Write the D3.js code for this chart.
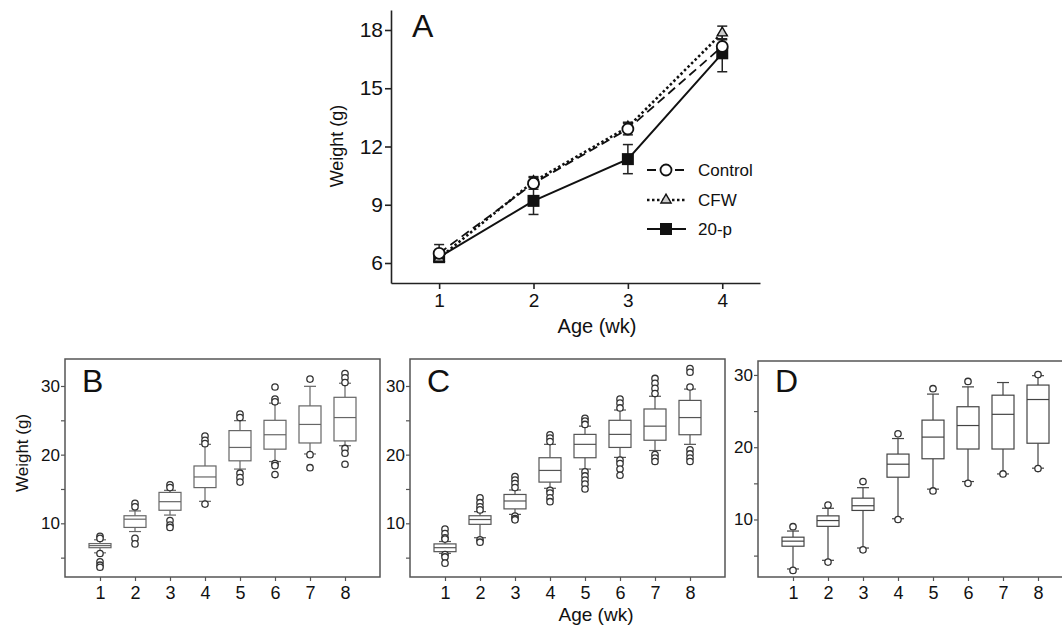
<!DOCTYPE html>
<html>
<head>
<meta charset="utf-8">
<script src="https://cdn.jsdelivr.net/npm/d3@7"></script>
<style>
  body { margin: 0; background: #fff; }
  svg { display: block; font-family: "Liberation Sans", Arial, sans-serif; }
</style>
</head>
<body>
<svg id="chart" width="1062" height="626"></svg>
<script>
// ---- panel A: mean weight per group ----
const weeksA = [1, 2, 3, 4];
const controlMean = [6.5, 10.1, 12.9, 17.15];
const controlErr = [0.45, 0.3, 0.3, 0.4];
const cfwMean = [6.25, 10.2, 13.0, 17.85];
const cfwErr = [0.2, 0.25, 0.25, 0.35];
const p20Mean = [6.3, 9.2, 11.35, 16.8];
const p20Err = [0.2, 0.7, 0.75, 0.95];
const ticksA = [6, 9, 12, 15, 18];

// ---- panels B, C, D: box plots per week ----
const weeksBox = [1, 2, 3, 4, 5, 6, 7, 8];
const boxTicks = [5, 10, 15, 20, 25, 30];

const bLow = [5.7, 8.8, 11.2, 13.2, 17.9, 19.0, 20.1, 21.3];
const bQ1 = [6.45, 9.4, 11.9, 15.2, 19.1, 20.8, 21.7, 22.0];
const bMed = [6.75, 10.6, 13.15, 16.75, 21.05, 22.9, 24.4, 25.4];
const bQ3 = [7.05, 11.1, 14.5, 18.35, 23.5, 25.0, 27.1, 28.35];
const bHigh = [7.6, 11.8, 14.8, 21.5, 24.95, 27.5, 29.95, 30.4];
const bOut = [[8.1, 7.8, 5.6, 4.4, 3.9, 3.6], [12.9, 12.4, 7.8, 7.0], [15.6, 15.2, 10.4, 9.75, 9.4],
  [22.7, 22.1, 21.6, 12.8], [25.9, 25.4, 17.3, 16.65, 16.0], [29.85, 28.1, 27.7, 18.7, 18.4, 17.1],
  [31.0, 20.0, 18.1], [31.8, 31.2, 30.5, 20.9, 20.2, 18.6]];

const cLow = [5.63, 7.9, 11.3, 15.1, 17.9, 19.6, 20.6, 21.5];
const cQ1 = [5.87, 9.85, 12.1, 16.0, 19.55, 21.05, 22.1, 22.9];
const cMed = [6.45, 10.55, 13.25, 17.7, 21.5, 22.95, 24.15, 25.4];
const cQ3 = [7.0, 11.1, 14.2, 19.55, 22.95, 25.0, 26.65, 27.9];
const cHigh = [7.35, 11.7, 14.85, 21.5, 24.15, 26.5, 28.5, 29.55];
const cOut = [[9.15, 8.5, 7.9, 7.7, 5.45, 5.1, 4.2], [13.7, 13.0, 12.4, 11.95, 7.6, 7.25],
  [16.8, 16.3, 15.8, 15.2, 11.05, 10.7, 10.5], [22.9, 22.4, 21.9, 14.8, 14.4, 13.7, 13.15],
  [25.3, 24.9, 24.4, 17.5, 16.9, 16.3, 15.7, 15.0], [28.1, 27.5, 26.8, 19.2, 18.7, 17.9, 17.0],
  [31.1, 30.4, 29.65, 28.9, 20.0, 19.5, 19.0], [32.55, 32.0, 29.85, 20.7, 20.1, 19.5, 19.0]];

const dLow = [3.15, 4.35, 6.05, 10.1, 14.2, 15.25, 16.3, 17.1];
const dQ1 = [6.3, 9.05, 11.25, 15.85, 18.4, 19.75, 19.75, 20.55];
const dMed = [7.0, 9.85, 11.9, 17.65, 21.4, 23.0, 24.55, 26.6];
const dQ3 = [7.55, 10.5, 12.95, 19.05, 23.75, 25.6, 27.2, 28.6];
const dHigh = [8.4, 11.55, 14.4, 21.2, 27.35, 28.35, 28.95, 29.9];
const dOut = [[9.0, 2.95], [12.0, 4.1], [15.25, 5.8], [21.85, 10.0], [28.1, 13.95], [29.1, 15.0],
  [16.3], [30.05, 17.05]];

const svg = d3.select("#chart");

// ================= panel A =================
const ax = d3.scaleLinear().domain([0.49, 4.4]).range([391, 760]);
const ay = d3.scaleLinear().domain([4.97, 19.03]).range([283, 10]);

const gA = svg.append("g");

const yAxisA = gA.append("g")
  .attr("transform", "translate(391,0)")
  .call(d3.axisLeft(ay).tickValues(ticksA).tickSize(6).tickSizeOuter(0).tickPadding(2));
const xAxisA = gA.append("g")
  .attr("transform", "translate(0,283)")
  .call(d3.axisBottom(ax).tickValues(weeksA).tickFormat(d3.format("d"))
    .tickSize(6).tickSizeOuter(0).tickPadding(5));
[yAxisA, xAxisA].forEach(g => {
  g.selectAll("path, line").attr("stroke", "#222").attr("stroke-width", 1.6);
  g.selectAll("text").attr("fill", "#111").style("font-size", "21px");
});
xAxisA.selectAll("text").style("font-size", "19px");

gA.append("text").attr("x", 412).attr("y", 37)
  .style("font-size", "32px").attr("fill", "#111").text("A");
gA.append("text")
  .attr("transform", "translate(337,146) rotate(-90)")
  .attr("text-anchor", "middle").attr("dy", "0.35em")
  .style("font-size", "18px").attr("fill", "#111").text("Weight (g)");
gA.append("text").attr("x", 597).attr("y", 333)
  .attr("text-anchor", "middle").style("font-size", "20px").attr("fill", "#111").text("Age (wk)");

const seriesA = [
  { name: "Control", mean: controlMean, err: controlErr, dash: "9,5", width: 1.8, mark: "circle" },
  { name: "CFW", mean: cfwMean, err: cfwErr, dash: "2.5,2.5", width: 2.6, mark: "triangle" },
  { name: "20-p", mean: p20Mean, err: p20Err, dash: null, width: 2, mark: "square" }
];

const lineA = d3.line().x((d, i) => ax(weeksA[i])).y(d => ay(d));

// error bars
seriesA.forEach(s => {
  const eb = gA.append("g").attr("stroke", "#222").attr("stroke-width", 1.5);
  weeksA.forEach((w, i) => {
    const x = ax(w), lo = ay(s.mean[i] - s.err[i]), hi = ay(s.mean[i] + s.err[i]);
    eb.append("line").attr("x1", x).attr("x2", x).attr("y1", lo).attr("y2", hi);
    eb.append("line").attr("x1", x - 5).attr("x2", x + 5).attr("y1", lo).attr("y2", lo);
    eb.append("line").attr("x1", x - 5).attr("x2", x + 5).attr("y1", hi).attr("y2", hi);
  });
});

// lines
seriesA.forEach(s => {
  gA.append("path").datum(s.mean)
    .attr("d", lineA).attr("fill", "none").attr("stroke", "#111")
    .attr("stroke-width", s.width)
    .attr("stroke-dasharray", s.dash);
});

function marker(g, type, x, y) {
  if (type === "circle") {
    g.append("circle").attr("cx", x).attr("cy", y).attr("r", 5.5)
      .attr("fill", "#fff").attr("stroke", "#111").attr("stroke-width", 1.8);
  } else if (type === "triangle") {
    g.append("path").attr("transform", `translate(${x},${y})`)
      .attr("d", d3.symbol(d3.symbolTriangle, 45)())
      .attr("fill", "#ccc").attr("stroke", "#111").attr("stroke-width", 1.4);
  } else {
    g.append("rect").attr("x", x - 6).attr("y", y - 6).attr("width", 12).attr("height", 12)
      .attr("fill", "#111");
  }
}

// markers: draw 20-p first so open markers stay on top at week 1
[seriesA[2], seriesA[1], seriesA[0]].forEach(s => {
  weeksA.forEach((w, i) => marker(gA, s.mark, ax(w), ay(s.mean[i])));
});

// legend
const legY = [170, 200, 229];
seriesA.forEach((s, i) => {
  gA.append("line").attr("x1", 647).attr("x2", 686).attr("y1", legY[i]).attr("y2", legY[i])
    .attr("stroke", "#111").attr("stroke-width", s.width).attr("stroke-dasharray", s.dash);
  marker(gA, s.mark, 666, legY[i]);
  gA.append("text").attr("x", 698).attr("y", legY[i]).attr("dy", "0.36em")
    .style("font-size", "17px").attr("fill", "#111").text(s.name);
});

// ================= box panels =================
function boxPanel(p) {
  const g = svg.append("g");
  const x = d3.scaleLinear().domain([0, 9]).range([p.left, p.right]);
  const y = d3.scaleLinear().domain(p.yDomain).range([p.bottom, p.top]);

  const ya = g.append("g").attr("transform", `translate(${p.left},0)`)
    .call(d3.axisLeft(y).tickValues(boxTicks).tickSize(4).tickPadding(1)
      .tickFormat(d => d % 10 === 0 ? d : ""));
  const xa = g.append("g").attr("transform", `translate(0,${p.bottom})`)
    .call(d3.axisBottom(x).tickValues(weeksBox).tickSize(4).tickPadding(5));
  [ya, xa].forEach(a => {
    a.select(".domain").remove();
    a.selectAll("line").attr("stroke", "#555").attr("stroke-width", 1.2);
    a.selectAll("text").attr("fill", "#111");
  });
  ya.selectAll("text").style("font-size", "17px");
  xa.selectAll("text").style("font-size", "18px");

  g.append("rect").attr("x", p.left).attr("y", p.top)
    .attr("width", p.right - p.left).attr("height", p.bottom - p.top)
    .attr("fill", "none").attr("stroke", "#555").attr("stroke-width", 1.5);

  g.append("text").attr("x", p.left + 17).attr("y", 392)
    .style("font-size", "32px").attr("fill", "#111").text(p.label);

  const bw = 22, cw = 12;
  weeksBox.forEach((w, i) => {
    const cx = x(w);
    const bg = g.append("g").attr("stroke", p.color).attr("stroke-width", 1.2).attr("fill", "none");
    bg.append("line").attr("x1", cx).attr("x2", cx).attr("y1", y(p.high[i])).attr("y2", y(p.q3[i]));
    bg.append("line").attr("x1", cx).attr("x2", cx).attr("y1", y(p.q1[i])).attr("y2", y(p.low[i]));
    bg.append("line").attr("x1", cx - cw / 2).attr("x2", cx + cw / 2)
      .attr("y1", y(p.high[i])).attr("y2", y(p.high[i]));
    bg.append("line").attr("x1", cx - cw / 2).attr("x2", cx + cw / 2)
      .attr("y1", y(p.low[i])).attr("y2", y(p.low[i]));
    bg.append("rect").attr("x", cx - bw / 2).attr("y", y(p.q3[i]))
      .attr("width", bw).attr("height", y(p.q1[i]) - y(p.q3[i])).attr("fill", "#fff");
    bg.append("line").attr("x1", cx - bw / 2).attr("x2", cx + bw / 2)
      .attr("y1", y(p.med[i])).attr("y2", y(p.med[i]));
    g.selectAll(null).data(p.out[i]).join("circle")
      .attr("cx", cx).attr("cy", d => y(d)).attr("r", 3.2)
      .attr("fill", "#fff").attr("stroke", "#333").attr("stroke-width", 1.3);
  });
  return g;
}

boxPanel({ label: "B", left: 65, right: 380, top: 359, bottom: 577, yDomain: [2.18, 33.93], color: "#666",
  low: bLow, q1: bQ1, med: bMed, q3: bQ3, high: bHigh, out: bOut });
boxPanel({ label: "C", left: 410, right: 725, top: 359, bottom: 577, yDomain: [2.18, 33.93], color: "#555",
  low: cLow, q1: cQ1, med: cMed, q3: cQ3, high: cHigh, out: cOut });
boxPanel({ label: "D", left: 758, right: 1073, top: 361, bottom: 577, yDomain: [2.04, 31.93], color: "#444",
  low: dLow, q1: dQ1, med: dMed, q3: dQ3, high: dHigh, out: dOut });

svg.append("text")
  .attr("transform", "translate(22,453) rotate(-90)")
  .attr("text-anchor", "middle").attr("dy", "0.35em")
  .style("font-size", "17px").attr("fill", "#111").text("Weight (g)");
svg.append("text").attr("x", 596).attr("y", 621)
  .attr("text-anchor", "middle").style("font-size", "19px").attr("fill", "#111").text("Age (wk)");
</script>
</body>
</html>
